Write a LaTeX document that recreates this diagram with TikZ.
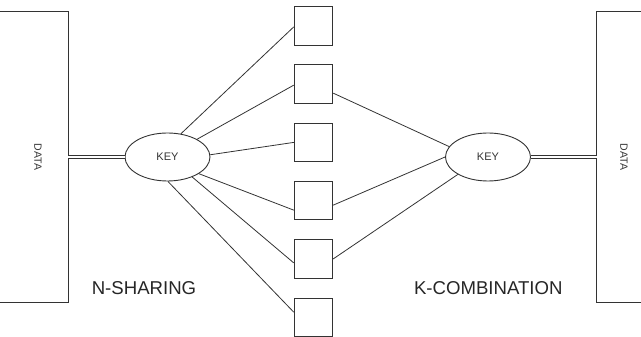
\documentclass[tikz,border=0pt]{standalone}
\usepackage{fontspec}
\setmainfont{Liberation Sans}
\usetikzlibrary{shapes.geometric}
\begin{document}
\begin{tikzpicture}[x=1pt,y=-1pt,
  ink/.style={draw=black!80,line width=0.9pt},
  keynode/.style={ink,ellipse,minimum width=85pt,minimum height=48pt,inner sep=0pt,font=\fontsize{11}{12}\selectfont,text=black!80},
  sharebox/.style={ink,rectangle,minimum width=38.5pt,minimum height=38.5pt,inner sep=0pt},
  link/.style={draw=black!80,line width=0.8pt},
  dbl/.style={draw=black!80,line width=0.8pt,double=white,double distance=2.6pt},
  datatext/.style={font=\fontsize{10.5}{12}\selectfont,text=black!80,rotate=-90},
  caption/.style={font=\fontsize{18.6}{22}\selectfont,text=black!85}]
\useasboundingbox (0,0) rectangle (641,337);

% data blocks on both sides
\draw[ink] (-5,11) -- (68,11) -- (68,302) -- (-5,302);
\draw[ink] (646,11) -- (596.7,11) -- (596.7,302) -- (646,302);
\coordinate (dl) at (68,157);
\coordinate (dr) at (596.7,157);
\node[datatext] (datal) at (38,157) {DATA};
\node[datatext] (datar) at (624,157) {DATA};

% keys
\node[keynode] (kl) at (167.5,157) {KEY};
\node[keynode] (kr) at (488,157) {KEY};

% shares
\foreach \i in {1,...,6}
  \node[sharebox] (s\i) at (313.5,{25.85+58.27*(\i-1)}) {};

% key to data
\draw[dbl] (dl) -- (kl.west);
\draw[dbl] (kr.east) -- (dr);

% splitting into shares
\draw[link] (kl.60) -- ([yshift=-1pt]s1.west);
\draw[link] (kl.31) -- ([yshift=-1pt]s2.west);
\draw[link] (kl.3) -- (s3.west);
\draw[link] (kl.-28) -- ([yshift=-9.5pt]s4.west);
\draw[link] (kl.-39) -- ([yshift=-4pt]s5.west);
\draw[link] (kl.-89) -- ([yshift=5pt]s6.west);

% recombination from a subset
\draw[link] ([yshift=-9pt]s2.east) -- (kr.165);
\draw[link] ([yshift=-4.5pt]s4.east) -- (kr.180);
\draw[link] (s5.east) -- (kr.-150);

% captions
\node[caption] (ncap) at (144,288) {N-SHARING};
\node[caption] (kcap) at (488.3,288) {K-COMBINATION};
\end{tikzpicture}
\end{document}
